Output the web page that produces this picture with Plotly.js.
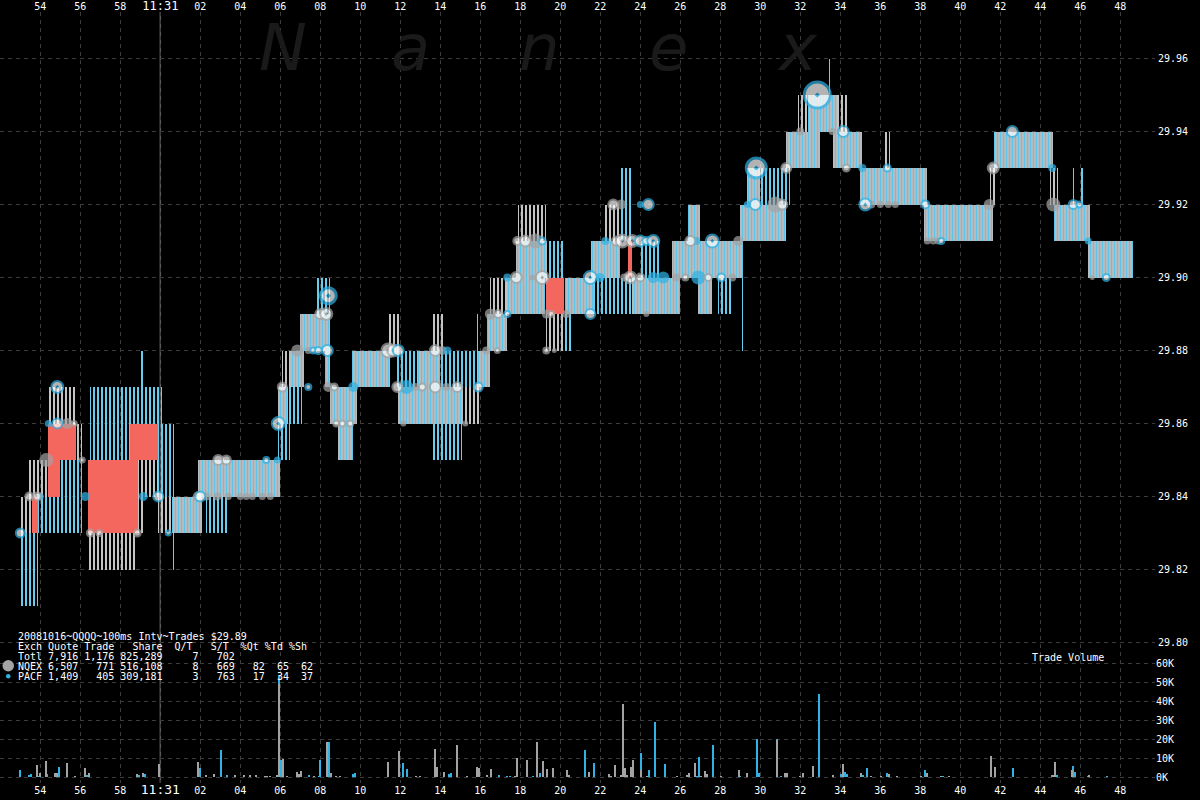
<!DOCTYPE html>
<html>
<head>
<meta charset="utf-8">
<script src="https://cdn.plot.ly/plotly-3.0.1.min.js"></script>
<style>
html,body{margin:0;padding:0;background:#000;}
#chart{width:1200px;height:800px;}
</style>
</head>
<body>
<div id="chart"></div>
<script>
// ---------- DATA ----------
// time values are seconds after 11:30:00
const tickSeconds = [54,56,58,60,62,64,66,68,70,72,74,76,78,80,82,84,86,88,90,92,94,96,98,100,102,104,106,108];
const tickLabels = ['54','56','58','11:31','02','04','06','08','10','12','14','16','18','20','22','24','26','28','30','32','34','36','38','40','42','44','46','48'];
const priceTicks = [29.80,29.82,29.84,29.86,29.88,29.90,29.92,29.94,29.96];
const volumeTicks = [0,10000,20000,30000,40000,50000,60000];
const volumeTickLabels = ['0K','10K','20K','30K','40K','50K','60K'];

// quote boxes: [start s, end s, low price, high price, kind]
// kind: m = both exchanges, g = NQEX only, c = PACF only, r = crossed
const quoteBoxes = [
  [53.0,53.9,29.81,29.83,'c'],[53.0,53.6,29.83,29.84,'g'],[53.6,53.9,29.83,29.84,'r'],
  [53.4,54.4,29.84,29.85,'g'],[53.9,56.1,29.83,29.84,'c'],[54.4,55.8,29.86,29.87,'g'],
  [54.4,55.8,29.85,29.86,'r'],[54.4,55.0,29.84,29.85,'r'],[55.0,56.1,29.84,29.85,'c'],
  [55.8,56.1,29.85,29.86,'g'],[56.5,58.5,29.85,29.87,'c'],[58.5,60.1,29.86,29.87,'c'],
  [56.4,58.9,29.83,29.85,'r'],[58.5,59.9,29.85,29.86,'r'],[56.4,58.8,29.82,29.83,'g'],
  [58.9,59.9,29.84,29.85,'g'],[58.8,59.2,29.83,29.84,'g'],[59.05,59.12,29.87,29.88,'c'],
  [59.9,60.7,29.84,29.86,'c'],[59.9,60.6,29.83,29.84,'g'],[60.6,62.1,29.83,29.84,'m'],
  [60.62,60.7,29.82,29.83,'c'],[61.12,61.2,29.82,29.83,'c'],[61.57,61.65,29.82,29.83,'c'],
  [62.3,63.4,29.83,29.84,'c'],[61.9,66.0,29.84,29.85,'m'],
  [65.9,66.5,29.85,29.86,'c'],[65.9,66.4,29.86,29.87,'m'],[66.4,67.1,29.86,29.87,'c'],
  [66.1,66.5,29.87,29.88,'g'],[66.5,67.2,29.87,29.88,'m'],[67.0,68.25,29.88,29.89,'m'],
  [67.85,68.5,29.89,29.90,'c'],[68.25,68.5,29.87,29.89,'m'],[68.5,69.85,29.86,29.87,'m'],
  [68.9,69.65,29.85,29.86,'m'],[69.6,71.5,29.87,29.88,'m'],[71.4,72.0,29.88,29.89,'g'],
  [71.85,72.85,29.87,29.88,'c'],[71.9,73.65,29.86,29.87,'m'],[72.85,74.0,29.87,29.88,'m'],
  [73.65,74.15,29.88,29.89,'g'],[73.65,75.1,29.85,29.86,'c'],[73.65,75.15,29.86,29.87,'m'],
  [74.0,75.15,29.87,29.88,'c'],[75.15,76.0,29.86,29.87,'g'],[75.15,75.85,29.87,29.88,'c'],
  [75.85,76.5,29.87,29.88,'m'],[75.82,75.88,29.86,29.89,'c'],[76.35,77.35,29.88,29.89,'m'],
  [76.5,77.35,29.89,29.90,'g'],[77.35,79.25,29.89,29.90,'m'],
  [77.8,79.35,29.90,29.91,'m'],[77.9,79.3,29.91,29.92,'g'],[79.35,80.15,29.90,29.91,'c'],
  [79.3,80.2,29.89,29.90,'r'],[79.3,80.15,29.88,29.89,'g'],[80.15,80.65,29.88,29.89,'c'],
  [80.25,81.65,29.89,29.90,'m'],[81.55,83.0,29.90,29.91,'m'],[81.65,83.6,29.89,29.90,'c'],
  [82.15,83.0,29.91,29.92,'g'],[83.0,83.6,29.91,29.93,'c'],[83.4,83.6,29.90,29.91,'r'],
  [83.6,86.0,29.89,29.90,'m'],[84.0,85.0,29.90,29.91,'c'],[85.6,86.75,29.90,29.91,'m'],
  [86.4,87.0,29.91,29.92,'m'],[86.9,87.6,29.89,29.90,'m'],[86.75,89.15,29.90,29.91,'m'],
  [87.9,88.65,29.89,29.90,'c'],[87.55,87.62,29.91,29.92,'c'],[87.72,87.8,29.91,29.92,'c'],
  [89.08,89.14,29.88,29.91,'c'],[89.0,89.9,29.91,29.92,'m'],[89.35,90.0,29.92,29.93,'m'],
  [89.9,91.3,29.91,29.92,'m'],[90.0,91.5,29.92,29.93,'c'],
  [91.3,93.0,29.93,29.94,'m'],[91.9,92.4,29.94,29.95,'g'],[92.4,93.85,29.94,29.95,'m'],
  [93.4,93.48,29.95,29.96,'c'],[93.85,94.35,29.94,29.95,'g'],[93.65,95.1,29.93,29.94,'m'],
  [96.2,96.5,29.93,29.94,'g'],[95.0,98.35,29.92,29.93,'m'],[98.2,101.65,29.91,29.92,'m'],
  [101.5,101.85,29.92,29.93,'g'],[101.7,104.65,29.93,29.94,'m'],[104.5,104.9,29.92,29.93,'g'],
  [105.6,105.68,29.92,29.93,'c'],[106.05,106.12,29.92,29.93,'c'],[104.7,106.5,29.91,29.92,'m'],
  [106.4,108.65,29.90,29.91,'m']
];

// trades: [time s, price, marker size, kind] gf/gw = NQEX, cf/cw = PACF
const trades = [
  [53.0,29.83,9,'cw'],[53.45,29.84,8,'gw'],[53.85,29.84,8,'gw'],[54.0,29.84,7,'cf'],
  [54.3,29.85,14,'gf'],[54.4,29.86,7,'cf'],[54.85,29.86,10,'cw'],[54.85,29.87,12,'cw'],
  [55.35,29.86,11,'gf'],[55.7,29.86,5,'gw'],[56.1,29.85,5,'gw'],[56.25,29.84,9,'cf'],
  [56.5,29.83,7,'gw'],[56.95,29.83,6,'gw'],[58.85,29.83,7,'gw'],[59.15,29.84,9,'cf'],
  [59.9,29.84,10,'cw'],[60.4,29.83,5,'cw'],[61.9,29.84,9,'gw'],[62.0,29.84,10,'cw'],
  [62.3,29.84,8,'gf'],[62.85,29.84,8,'gf'],[62.9,29.85,10,'gw'],[63.3,29.85,9,'gw'],
  [63.4,29.84,7,'gf'],[64.0,29.84,7,'gf'],[64.3,29.84,7,'gf'],[64.6,29.84,7,'gf'],
  [65.1,29.84,7,'gf'],[65.5,29.84,7,'gf'],[65.3,29.85,6,'cw'],[65.85,29.85,7,'cf'],
  [65.9,29.86,13,'cw'],[66.1,29.87,9,'gw'],[66.85,29.88,12,'gf'],[67.4,29.88,7,'gf'],
  [67.4,29.87,6,'cw'],[67.65,29.88,6,'cw'],[67.9,29.88,7,'cw'],[68.35,29.88,11,'cw'],
  [68.0,29.89,10,'gw'],[68.3,29.89,12,'gw'],[68.4,29.895,16,'cw'],[68.4,29.87,10,'gf'],
  [68.7,29.87,7,'gw'],[69.65,29.87,10,'cf'],[68.8,29.86,6,'gw'],[69.1,29.86,6,'gw'],
  [69.5,29.86,6,'gw'],[71.4,29.88,14,'gw'],[71.65,29.88,12,'gw'],[71.9,29.88,11,'cw'],
  [71.85,29.87,10,'gw'],[72.3,29.87,14,'cf'],[72.75,29.87,8,'gf'],[73.1,29.87,7,'gw'],
  [73.75,29.87,11,'gw'],[74.3,29.87,8,'gf'],[74.85,29.87,10,'gw'],[75.9,29.87,9,'cw'],
  [72.15,29.86,6,'gf'],[75.25,29.86,6,'gf'],[73.75,29.88,11,'gw'],[74.1,29.88,9,'gf'],
  [74.35,29.88,8,'cf'],[76.3,29.88,8,'gf'],[76.85,29.88,5,'gw'],[76.5,29.89,11,'gf'],
  [76.9,29.89,8,'gw'],[77.35,29.89,6,'cw'],[77.35,29.90,8,'cf'],[77.8,29.90,11,'gw'],
  [78.6,29.90,6,'gf'],[79.1,29.90,13,'gw'],[77.85,29.91,8,'gw'],[78.25,29.91,11,'gw'],
  [78.75,29.91,15,'gf'],[79.1,29.91,7,'cw'],[79.3,29.89,9,'gf'],[79.55,29.89,6,'gw'],
  [80.3,29.89,8,'gf'],[79.3,29.88,6,'gw'],[79.7,29.88,5,'gf'],[81.5,29.89,10,'cw'],
  [81.5,29.90,13,'cw'],[82.0,29.90,9,'cf'],[82.25,29.91,8,'cf'],[82.8,29.91,9,'gw'],
  [82.65,29.92,10,'gw'],[83.05,29.92,10,'gf'],[84.0,29.92,7,'cf'],[84.4,29.92,11,'cw'],
  [83.1,29.91,13,'gw'],[83.6,29.91,12,'gw'],[84.0,29.91,11,'cw'],[84.3,29.91,8,'cw'],
  [84.65,29.91,12,'cw'],[83.2,29.90,8,'gf'],[83.5,29.90,12,'gw'],[84.0,29.90,8,'gw'],
  [84.65,29.90,11,'cf'],[85.15,29.90,12,'cf'],[85.8,29.90,8,'gf'],[86.25,29.90,6,'gw'],
  [86.9,29.90,14,'cf'],[87.4,29.90,7,'gw'],[88.05,29.90,8,'cw'],[88.6,29.90,8,'gf'],
  [84.3,29.89,6,'gf'],[86.5,29.91,10,'gw'],[86.8,29.91,8,'cf'],[87.6,29.91,13,'cw'],
  [88.9,29.91,10,'gf'],[89.35,29.92,7,'cf'],[89.75,29.92,11,'cw'],[90.75,29.92,16,'gf'],
  [91.1,29.92,10,'gw'],[89.8,29.93,20,'cw'],[91.3,29.93,10,'gw'],[92.85,29.95,26,'cw'],
  [92.0,29.94,8,'gf'],[93.6,29.94,7,'gf'],[94.15,29.94,11,'cw'],[94.3,29.93,7,'gw'],
  [95.1,29.93,8,'cf'],[96.35,29.93,7,'cw'],[95.25,29.92,12,'cw'],[95.55,29.92,8,'gf'],
  [96.0,29.92,7,'gf'],[96.4,29.92,7,'gf'],[96.75,29.92,7,'gf'],[98.25,29.92,8,'cw'],
  [98.35,29.91,7,'gf'],[98.65,29.91,7,'gf'],[98.9,29.91,7,'gf'],[99.05,29.91,6,'cw'],
  [102.6,29.94,11,'cw'],[101.65,29.93,11,'gw'],[101.45,29.92,11,'gf'],[104.6,29.93,8,'cf'],
  [104.65,29.92,14,'gf'],[105.65,29.92,9,'cw'],[105.95,29.92,6,'cw'],[106.4,29.91,7,'cf'],
  [106.6,29.90,5,'gf'],[107.3,29.90,7,'cw']
];

// trade volume (thousands of shares)
const volPacfTime = [53.0,53.45,53.55,53.9,54.35,54.95,56.35,56.45,56.6,58.95,59.25,60.45,62.0,63.05,63.35,65.93,66.05,67.45,67.95,68.0,68.45,69.65,69.75,72.15,72.35,74.45,74.55,76.95,77.35,77.5,78.65,79.0,81.22,81.7,84.03,84.44,84.74,85.24,86.84,86.94,87.64,88.99,89.84,89.94,90.84,91.05,92.93,94.05,94.25,94.35,95.14,95.33,96.33,98.24,99.15,99.45,102.64,104.59,104.84,105.65,105.75,106.1,106.4,107.33];
const volPacfK = [3.9,1.2,1.8,0.6,1.8,5.3,1.2,0.6,0.2,1.2,1.4,0.2,4.9,14,1.2,54,9.1,1.0,0.5,9.1,18.6,1.4,2.3,7.6,4.4,1.4,2.3,0.9,0.5,0.5,0.7,2.1,14,7.6,12.8,3.9,29.2,7.0,0.7,10.6,17.0,0.4,20.2,2.1,20.3,0.7,44,1.6,2.8,1.6,0.9,4.9,2.3,3.9,0.4,0.4,4.9,1.1,0.9,6.0,2.8,0.2,0.5,0.7];
const volNqexTime = [53.85,54.0,54.3,54.75,54.85,55.35,55.75,56.25,56.45,58.85,59.15,59.95,61.9,62.3,62.7,63.75,64.2,64.5,64.8,65.25,65.35,65.5,65.85,65.93,66.15,66.35,66.85,66.95,67.05,67.7,68.35,68.55,68.8,69.0,71.4,71.95,72.8,73.0,73.75,73.85,74.2,74.85,75.35,75.85,75.95,76.35,76.55,77.75,77.83,78.33,78.83,79.13,79.33,79.63,80.32,80.42,81.42,82.45,82.55,82.74,83.05,83.15,83.25,83.35,83.55,83.65,84.03,84.34,85.84,86.33,86.44,86.74,87.04,87.24,87.34,88.04,88.94,89.34,90.84,91.24,91.34,92.0,92.13,92.63,93.63,94.15,95.04,95.54,96.04,96.44,96.84,98.04,98.34,99.05,99.44,101.54,101.74,104.64,104.74,105.57,106.44];
const volNqexK = [6.5,2.0,8.6,2.0,2.0,7.6,0.7,4.9,2.0,1.8,2.3,7.0,8.1,1.2,1.6,0.9,0.9,0.9,0.9,0.7,0.7,0.7,0.9,49,9.7,0.4,2.6,1.6,3.3,0.5,18.6,2.3,0.5,0.5,8.1,13.9,0.5,0.4,15,5.3,2.8,17,0.4,5.5,4.9,1.2,4.4,0.5,10.2,9.1,18.6,8.6,4.0,4.9,3.9,1.1,2.8,1.6,0.5,6.5,0.9,38.7,4.9,1.2,5.3,9.1,3.5,0.4,0.4,0.9,2.1,7.6,0.4,3.3,1.6,0.4,3.9,2.3,19.5,2.3,2.3,0.4,2.3,6.0,1.2,7.0,2.3,0.7,0.7,1.4,0.7,0.7,1.9,0.7,0.7,11.3,5.5,1.0,8.1,3.9,0.9];

const legendLines = [
  '20081016~QQQQ~100ms Intv~Trades $29.89',
  'Exch Quote Trade   Share  Q/T   S/T  %Qt %Td %Sh',
  'Totl 7,916 1,176 825,289     7   702',
  'NQEX 6,507   771 516,108     8   669   82  65  62',
  'PACF 1,409   405 309,181     3   763   17  34  37'
];
const watermarkLetters = ['N','a','n','e','x'];

// ---------- STYLE / GEOMETRY ----------
const W = 1200, H = 800;
const M = {l:0, r:45, t:12, b:17};
const PW = W - M.l - M.r, PH = H - M.t - M.b;
const GRAY = '#a3a3a3', CYAN = '#2fb2e6';
const RED = '#f4675f';
const gridStyle = {showgrid:true, gridcolor:'#3c3c3c', griddash:'4px,4px', gridwidth:1, zeroline:false, showline:false, ticks:''};
const monoFont = {family:'DejaVu Sans Mono, monospace', size:10, color:'#ffffff'};

const px2paperX = p => (p - M.l) / PW;
const px2paperY = p => (H - M.b - p) / PH;

// ---------- TRACES ----------
const kindStyle = {
  c: {pattern:{shape:'|', fgcolor:'#66cdee', bgcolor:'rgba(0,0,0,0)', size:4, solidity:0.5}, color:'rgba(0,0,0,0)'},
  g: {pattern:{shape:'|', fgcolor:'#c4c4c4', bgcolor:'rgba(0,0,0,0)', size:4, solidity:0.5}, color:'rgba(0,0,0,0)'},
  m: {pattern:{shape:'|', fgcolor:'#5cc6ea', bgcolor:'#b5bbbe', size:3, solidity:0.34}, color:'#b5bbbe'},
  r: {color:RED}
};
const traces = [];
['c','g','m','r'].forEach(k => {
  const rows = quoteBoxes.filter(b => b[4] === k);
  const mk = {color: kindStyle[k].color, line:{width:0}};
  if (kindStyle[k].pattern) mk.pattern = kindStyle[k].pattern;
  traces.push({
    type:'bar', xaxis:'x', yaxis:'y',
    x: rows.map(b => (b[0]+b[1])/2),
    width: rows.map(b => b[1]-b[0]),
    base: rows.map(b => b[2]),
    y: rows.map(b => +(b[3]-b[2]).toFixed(4)),
    marker: mk, hoverinfo:'skip', showlegend:false
  });
});

function tradeTrace(kind) {
  const rows = trades.filter(t => t[3] === kind);
  const isGray = kind[0] === 'g';
  const isFill = kind[1] === 'f';
  const col = isGray ? GRAY : CYAN;
  return {
    type:'scatter', mode:'markers', xaxis:'x', yaxis:'y',
    x: rows.map(t => t[0]), y: rows.map(t => t[1]),
    marker: {
      size: rows.map(t => t[2]),
      color: isFill ? col : '#ffffff',
      symbol: rows.map(t => (!isFill && t[2] >= 12) ? 'circle-dot' : 'circle'),
      line: {color: col, width: isFill ? 0 : rows.map(t => t[2] >= 16 ? 3 : 2)}
    },
    hoverinfo:'skip', showlegend:false
  };
}
traces.push(tradeTrace('gf'), tradeTrace('cf'), tradeTrace('gw'), tradeTrace('cw'));

traces.push({
  type:'bar', xaxis:'x', yaxis:'y2', x: volPacfTime, y: volPacfK.map(v => v*1000),
  width: volPacfTime.map(() => 0.1), marker:{color:CYAN, line:{width:0}}, hoverinfo:'skip', showlegend:false
});
traces.push({
  type:'bar', xaxis:'x', yaxis:'y2', x: volNqexTime, y: volNqexK.map(v => v*1000),
  width: volNqexTime.map(() => 0.1), marker:{color:GRAY, line:{width:0}}, hoverinfo:'skip', showlegend:false
});
// invisible trace so the top time axis is drawn
traces.push({type:'scatter', mode:'markers', xaxis:'x2', yaxis:'y', x:[60], y:[29.9], marker:{opacity:0}, hoverinfo:'skip', showlegend:false});

// ---------- LAYOUT ----------
const xRange = [51.985, 51.985 + PW/20];
const priceRange = [29.80 - (H - M.b - 642.5)/3650, 29.96 + (58.5 - M.t)/3650];
const volPerPx = 10000/18.95;
const volRange = [-(H - M.b - 777)*volPerPx, (777 - M.t)*volPerPx];

const tickTextBottom = tickLabels.map(t => t.includes(':') ? '<span style="font-size:13px">'+t+'</span>' : t);
const tickTextTop = tickLabels.map(t => t.includes(':') ? '<span style="font-size:12px">'+t+'</span>' : t);

const annotations = [];
legendLines.forEach((line, i) => {
  annotations.push({
    xref:'paper', yref:'paper', x: px2paperX(16), y: px2paperY(636 + i*10),
    xanchor:'left', yanchor:'middle', showarrow:false,
    text: line.replace(/ /g, '\u00a0'), font: monoFont
  });
});
annotations.push({
  xref:'paper', yref:'paper', x: px2paperX(1068), y: px2paperY(657),
  xanchor:'center', yanchor:'middle', showarrow:false, text:'Trade\u00a0Volume', font: monoFont
});
const letterX = [283, 410, 539, 668, 797];
watermarkLetters.forEach((ch, i) => {
  annotations.push({
    xref:'paper', yref:'paper', x: px2paperX(letterX[i]), y: px2paperY(87),
    xanchor:'center', yanchor:'bottom', showarrow:false, text: ch,
    font:{family:'DejaVu Sans', size:64, color:'#1a1a1a', style:'italic'}
  });
});

const shapes = [
  {type:'line', xref:'x', yref:'paper', x0:60, x1:60, y0:0, y1:1, line:{color:'#5a5a5a', width:1.5}, layer:'below'},
  {type:'circle', xref:'paper', yref:'paper', x0:px2paperX(2.5), x1:px2paperX(14), y0:px2paperY(671.5), y1:px2paperY(660), fillcolor:GRAY, line:{width:0}},
  {type:'circle', xref:'paper', yref:'paper', x0:px2paperX(6), x1:px2paperX(10.5), y0:px2paperY(678.5), y1:px2paperY(674), fillcolor:CYAN, line:{width:0}}
];

const layout = {
  width:W, height:H, margin:M,
  paper_bgcolor:'#000', plot_bgcolor:'#000',
  barmode:'overlay', bargap:0, showlegend:false,
  xaxis: Object.assign({}, gridStyle, {range:xRange, tickvals:tickSeconds, ticktext:tickTextBottom, tickfont:monoFont, side:'bottom'}),
  xaxis2: Object.assign({}, gridStyle, {range:xRange, matches:'x', overlaying:'x', side:'top', showgrid:false, tickvals:tickSeconds, ticktext:tickTextTop, tickfont:monoFont, ticklabelstandoff:-1}),
  yaxis: Object.assign({}, gridStyle, {range:priceRange, side:'right', tickvals:priceTicks, ticktext:priceTicks.map(v => v.toFixed(2)), tickfont:monoFont, ticklabelstandoff:2}),
  yaxis2: Object.assign({}, gridStyle, {range:volRange, overlaying:'y', side:'right', tickvals:volumeTicks, ticktext:volumeTickLabels, tickfont:monoFont}),
  annotations: annotations,
  shapes: shapes
};

Plotly.newPlot('chart', traces, layout, {staticPlot:true, displayModeBar:false});
</script>
</body>
</html>
